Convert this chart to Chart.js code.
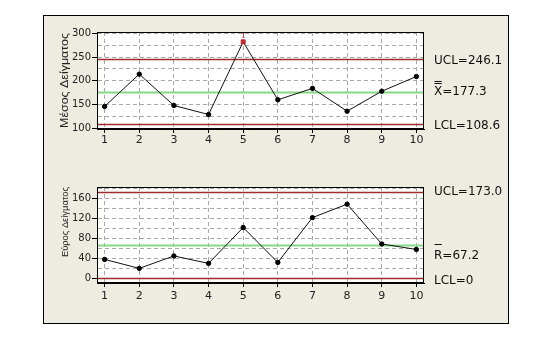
<!DOCTYPE html>
<html><head><meta charset="utf-8">
<script src="https://cdn.jsdelivr.net/npm/chart.js@4"></script>
<style>
html,body{margin:0;padding:0;background:#fff;width:554px;height:342px;overflow:hidden}
#frame{position:absolute;left:43px;top:15px;width:464px;height:307px;border:1px solid #000;background:#eeebe0}
canvas{position:absolute;left:0}
#c1{top:0}
#c2{top:170px}
</style></head><body>
<div id="frame"></div>
<canvas id="c1" width="554" height="170"></canvas>
<canvas id="c2" width="554" height="172"></canvas>
<script>
// ---- data ----
const samples = [1, 2, 3, 4, 5, 6, 7, 8, 9, 10];
const sampleMeans = [146, 214, 148, 129, 282, 160, 184, 136, 178, 209];
const sampleRanges = [38, 20, 45, 30, 102, 32, 122, 149, 69, 58];
const meanLimits = [246.1, 177.3, 108.6];          // UCL, centre, LCL
const meanLimitLabels = ['UCL=246.1', 'X=177.3', 'LCL=108.6'];
const rangeLimits = [173.0, 67.2, 0];
const rangeLimitLabels = ['UCL=173.0', 'R=67.2', 'LCL=0'];
const meanTicks = [100, 125, 150, 175, 200, 225, 250, 275, 300];
const rangeTicks = [0, 20, 40, 60, 80, 100, 120, 140, 160, 180];
const meanTitle = 'Μέσος Δείγματος';
const rangeTitle = 'Εύρος Δείγματος';

const FONT = 'DejaVu Sans';
const TFONT = 'Liberation Sans';
const RED = '#9e2c2c', GREEN = '#86d886', GRID = '#a8a8a8';

function makeChart(id, o) {
  const pts = o.values.map((v, i) => ({x: samples[i], y: v}));
  const isOut = i => o.values[i] > o.limits[0] || o.values[i] < o.limits[2];
  const plug = {
    id: 'spc',
    beforeDraw(c) {
      const a = c.chartArea, g = c.ctx;
      g.save(); g.fillStyle = '#fff'; g.fillRect(a.left, a.top, a.right - a.left, a.bottom - a.top); g.restore();
    },
    beforeDatasetsDraw(c) {
      const a = c.chartArea, g = c.ctx, ys = c.scales.y;
      g.save();
      o.limits.forEach((v, k) => {
        const y = Math.round(ys.getPixelForValue(v)) + 0.5;
        g.strokeStyle = k === 1 ? GREEN : RED;
        g.lineWidth = k === 1 ? 1.8 : 1.3;
        g.beginPath(); g.moveTo(a.left, y); g.lineTo(a.right, y); g.stroke();
      });
      g.restore();
    },
    afterDraw(c) {
      const a = c.chartArea, g = c.ctx, ys = c.scales.y, xs = c.scales.x;
      g.save();
      g.strokeStyle = '#000'; g.lineWidth = 1;
      g.strokeRect(a.left + 0.5, a.top + 0.5, a.right - a.left - 1, a.bottom - a.top - 1);
      // limit labels
      g.font = '12px "' + FONT + '"';
      g.fillStyle = '#111'; g.textAlign = 'left'; g.textBaseline = 'middle';
      const lx = 434;
      o.limits.forEach((v, k) => {
        const y = ys.getPixelForValue(v) + o.labelOffsets[k];
        g.fillText(o.labels[k], lx, y);
        if (k === 1) {
          const w = g.measureText(o.labels[k][0]).width;
          g.strokeStyle = '#111'; g.lineWidth = 1;
          o.bars.forEach(dy => {
            g.beginPath(); g.moveTo(lx + 0.5, Math.round(y + dy) + 0.5); g.lineTo(lx + w - 0.5, Math.round(y + dy) + 0.5); g.stroke();
          });
        }
      });
      // rotated axis title
      g.font = o.titleSize + 'px "' + TFONT + '"';
      g.fillStyle = '#222'; g.textAlign = 'center'; g.textBaseline = 'middle';
      const tw = g.measureText(o.title).width;
      g.translate(65, o.titleCenter);
      g.rotate(-Math.PI / 2);
      g.scale(o.titleLen / tw, 1);
      g.fillText(o.title, 0, 0);
      g.setTransform(1, 0, 0, 1, 0, 0);
      // out-of-control test marker
      g.font = '7px "' + FONT + '"'; g.fillStyle = '#c0282d'; g.textBaseline = 'bottom'; g.textAlign = 'center';
      o.values.forEach((v, i) => {
        if (isOut(i)) g.fillText('1', xs.getPixelForValue(samples[i]), ys.getPixelForValue(v) - 2);
      });
      g.restore();
    }
  };
  return new Chart(document.getElementById(id), {
    type: 'line',
    data: {datasets: [{
      data: pts,
      borderColor: '#111', borderWidth: 1, tension: 0,
      pointStyle: c => isOut(c.dataIndex) ? 'rect' : 'circle',
      pointRadius: c => isOut(c.dataIndex) ? 2.8 : 2.2,
      pointBackgroundColor: c => isOut(c.dataIndex) ? '#c0282d' : '#000',
      pointBorderColor: c => isOut(c.dataIndex) ? '#c0282d' : '#000',
      pointBorderWidth: 1
    }]},
    options: {
      responsive: false, animation: false, devicePixelRatio: 1,
      layout: {padding: {left: 42, right: 130, top: o.padTop, bottom: 0}},
      plugins: {legend: {display: false}, tooltip: {enabled: false}},
      scales: {
        x: {
          type: 'linear', min: 0.78, max: 10.22,
          afterBuildTicks: s => { s.ticks = samples.map(v => ({value: v})); },
          afterFit: s => { s.height = o.xAxisH; },
          grid: {color: GRID, lineWidth: 1, tickLength: 4, tickColor: '#000', tickBorderDash: []},
          border: {display: true, color: '#000', width: 1, dash: [4, 3]},
          ticks: {font: {family: FONT, size: 11}, color: '#222', padding: o.xPad, maxRotation: 0, autoSkip: false,
                  callback: v => String(v)}
        },
        y: {
          min: o.min, max: o.max,
          afterBuildTicks: s => { s.ticks = o.ticks.map(v => ({value: v})); },
          afterFit: s => { s.width = 55; },
          grid: {color: GRID, lineWidth: 1, tickLength: 5,
                 tickColor: c => (c.tick && c.tick.value % o.labelStep === 0) ? '#000' : 'rgba(0,0,0,0)', tickBorderDash: []},
          border: {display: true, color: '#000', width: 1, dash: [4, 3]},
          ticks: {font: {family: FONT, size: 10}, color: '#222', padding: 1, autoSkip: false,
                  callback: v => (v % o.labelStep === 0 ? String(v) : '')}
        }
      }
    },
    plugins: [plug]
  });
}

makeChart('c1', {
  values: sampleMeans, limits: meanLimits, labels: meanLimitLabels, ticks: meanTicks, labelStep: 50,
  min: 98.5, max: 302.7, padTop: 32, xAxisH: 41, xPad: 1,
  labelOffsets: [2, 0.5, 2], bars: [-11, -9],
  title: meanTitle, titleCenter: 80.5, titleLen: 95, titleSize: 10.5
});
makeChart('c2', {
  values: sampleRanges, limits: rangeLimits, labels: rangeLimitLabels, ticks: rangeTicks, labelStep: 40,
  min: -9.4, max: 183.5, padTop: 17, xAxisH: 59, xPad: 3,
  labelOffsets: [0, 10.5, 3], bars: [-11],
  title: rangeTitle, titleCenter: 52, titleLen: 70, titleSize: 9.5
});
</script>
</body></html>
